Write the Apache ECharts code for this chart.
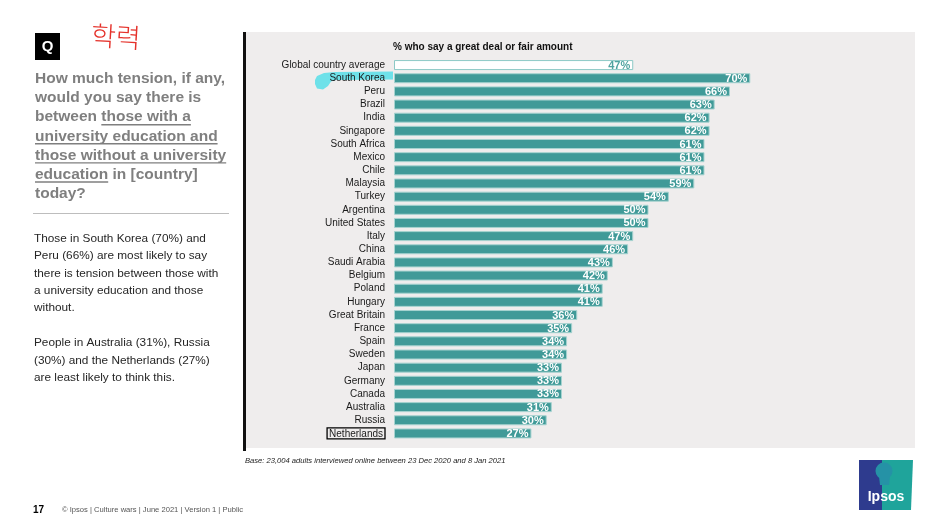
<!DOCTYPE html>
<html>
<head>
<meta charset="utf-8">
<script src="https://cdn.jsdelivr.net/npm/echarts@6/dist/echarts.min.js"></script>
<style>
html,body{margin:0;padding:0;background:#fff;}
#chart{width:950px;height:531px;}
</style>
</head>
<body>
<div id="chart"></div>
<script>
// ---- data ----
const countries = ['Global country average','South Korea','Peru','Brazil','India','Singapore','South Africa','Mexico','Chile','Malaysia','Turkey','Argentina','United States','Italy','China','Saudi Arabia','Belgium','Poland','Hungary','Great Britain','France','Spain','Sweden','Japan','Germany','Canada','Australia','Russia','Netherlands'];
const values = [47,70,66,63,62,62,61,61,61,59,54,50,50,47,46,43,42,41,41,36,35,34,34,33,33,33,31,30,27];
const axisMin = 0;
const axisMax = 100;
const chartTitle = '% who say a great deal or fair amount';
const baseNote = 'Base: 23,004 adults interviewed online between 23 Dec 2020 and 8 Jan 2021';
const questionLines = [
  ['How much tension, if any,', ''],
  ['would you say there is', ''],
  ['between ', 'those with a'],
  ['', 'university education and'],
  ['', 'those without a university'],
  ['', 'education', ' in [country]'],
  ['today?', '']
];
const bodyLines = [
  'Those in South Korea (70%) and',
  'Peru (66%) are most likely to say',
  'there is tension between those with',
  'a university education and those',
  'without.',
  '',
  'People in Australia (31%), Russia',
  '(30%) and the Netherlands (27%)',
  'are least likely to think this.'
];
const footerText = '© Ipsos | Culture wars | June 2021 | Version 1 | Public';
const pageNum = '17';
const handNote = '학력';

const FONT = '"Liberation Sans", Arial, Helvetica, sans-serif';
const TEAL = '#409A98';

const chart = echarts.init(document.getElementById('chart'), null, {renderer:'canvas'});

// measure helper
const mctx = document.createElement('canvas').getContext('2d');
function tw(text, font){ mctx.font = font; return mctx.measureText(text).width; }

const graphics = [];
// gray panel
graphics.push({type:'rect', z:-100, shape:{x:246,y:32,width:669,height:416}, style:{fill:'#EFEDED'}});
// left black rule
graphics.push({type:'rect', z:-50, shape:{x:243,y:32,width:3,height:419}, style:{fill:'#111'}});
// cyan highlight behind South Korea
graphics.push({type:'polygon', z:1, shape:{points:[[315,80],[317,76],[324,73],[335,72],[393,71.5],[393,79.5],[336,80],[331,81.5],[328,86],[323,89.5],[317,88.5],[315,84]]}, style:{fill:'#6EE1E9'}});
// Q box
graphics.push({type:'rect', shape:{x:35,y:33,width:25,height:27}, style:{fill:'#000'}});
graphics.push({type:'text', style:{text:'Q', x:47.5, y:47, textAlign:'center', textVerticalAlign:'middle', font:'bold 15px '+FONT, fill:'#fff'}});
// handwritten note
graphics.push({type:'text', rotation:-0.06, x:91, y:35, style:{text:handNote, x:0, y:0, textAlign:'left', textVerticalAlign:'middle', font:'300 27px "Noto Sans CJK KR"', fill:'#E5322B'}});

// question
const qFont = 'bold 15.5px ' + FONT;
const qY0 = 79, qStep = 19.1;
questionLines.forEach((parts, i) => {
  const y = qY0 + i*qStep;
  let x = 35;
  parts.forEach((p, j) => {
    if (!p) return;
    graphics.push({type:'text', style:{text:p, x:x, y:y, textAlign:'left', textVerticalAlign:'middle', font:qFont, fill:'#7F7F7F'}});
    const w = tw(p, qFont);
    if (j === 1) {
      graphics.push({type:'line', shape:{x1:x, y1:y+7.5, x2:x+w, y2:y+7.5}, style:{stroke:'#7F7F7F', lineWidth:1.4}});
    }
    x += w;
  });
});
// divider
graphics.push({type:'line', shape:{x1:33,y1:213.5,x2:229,y2:213.5}, style:{stroke:'#BDBDBD', lineWidth:1}});
// body text
const bFont = '11.8px ' + FONT;
bodyLines.forEach((t, i) => {
  if (!t) return;
  graphics.push({type:'text', style:{text:t, x:34, y:238.5 + i*17.4, textAlign:'left', textVerticalAlign:'middle', font:bFont, fill:'#262626'}});
});
// chart title
graphics.push({type:'text', style:{text:chartTitle, x:393, y:47, textAlign:'left', textVerticalAlign:'middle', font:'bold 10px '+FONT, fill:'#111'}});
// base note
graphics.push({type:'text', style:{text:baseNote, x:245, y:461, textAlign:'left', textVerticalAlign:'middle', font:'italic 7.6px '+FONT, fill:'#222'}});
// footer
graphics.push({type:'text', style:{text:pageNum, x:33, y:510, textAlign:'left', textVerticalAlign:'middle', font:'bold 10px '+FONT, fill:'#000'}});
graphics.push({type:'text', style:{text:footerText, x:62, y:510, textAlign:'left', textVerticalAlign:'middle', font:'7.6px '+FONT, fill:'#555'}});
// Ipsos logo
graphics.push({type:'polygon', shape:{points:[[859,460],[913,460],[911,510],[859,510]]}, style:{fill:'#1FA49B'}});
graphics.push({type:'rect', shape:{x:859,y:460,width:23,height:50}, style:{fill:'#2E3B8E'}});
graphics.push({type:'circle', shape:{cx:884,cy:471,r:8.5}, style:{fill:'#2592A6'}});
graphics.push({type:'polygon', shape:{points:[[879,476],[890,476],[889,485],[880,485]]}, style:{fill:'#2592A6'}});
graphics.push({type:'text', style:{text:'Ipsos', x:886, y:497.5, textAlign:'center', textVerticalAlign:'middle', font:'bold 14px '+FONT, fill:'#fff'}});

const barData = values.map((v, i) => {
  if (i === 0) {
    return {value:v, itemStyle:{color:'#fff', borderColor:'#8CC9C6', borderWidth:1}, label:{color:'#4FA3A0'}};
  }
  return {value:v};
});

chart.setOption({
  animation:false,
  backgroundColor:'#ffffff',
  graphic:{elements:graphics},
  grid:{left:394, top:58.5, width:509, height:381.5, containLabel:false},
  xAxis:{type:'value', min:axisMin, max:axisMax, show:false},
  yAxis:{
    type:'category', data:countries, inverse:true, z:20,
    axisLine:{show:false}, axisTick:{show:false}, splitLine:{show:false},
    axisLabel:{
      margin:9, fontSize:10, color:'#1a1a1a', fontFamily:'Liberation Sans',
      formatter:(v) => v === 'Netherlands' ? '{box|' + v + '}' : v,
      rich:{box:{fontSize:10, color:'#1a1a1a', fontFamily:'Liberation Sans', borderColor:'#000', borderWidth:1.3, padding:[1,2,0,2]}}
    }
  },
  series:[{
    type:'bar', data:barData, barWidth:10, z:4,
    itemStyle:{color:TEAL, borderColor:'#A6D3D0', borderWidth:1},
    label:{show:true, position:'insideRight', offset:[2,0.5], formatter:'{c}%', color:'#fff', fontWeight:'bold', fontSize:11, fontFamily:'Liberation Sans'}
  }]
});
</script>
</body>
</html>
